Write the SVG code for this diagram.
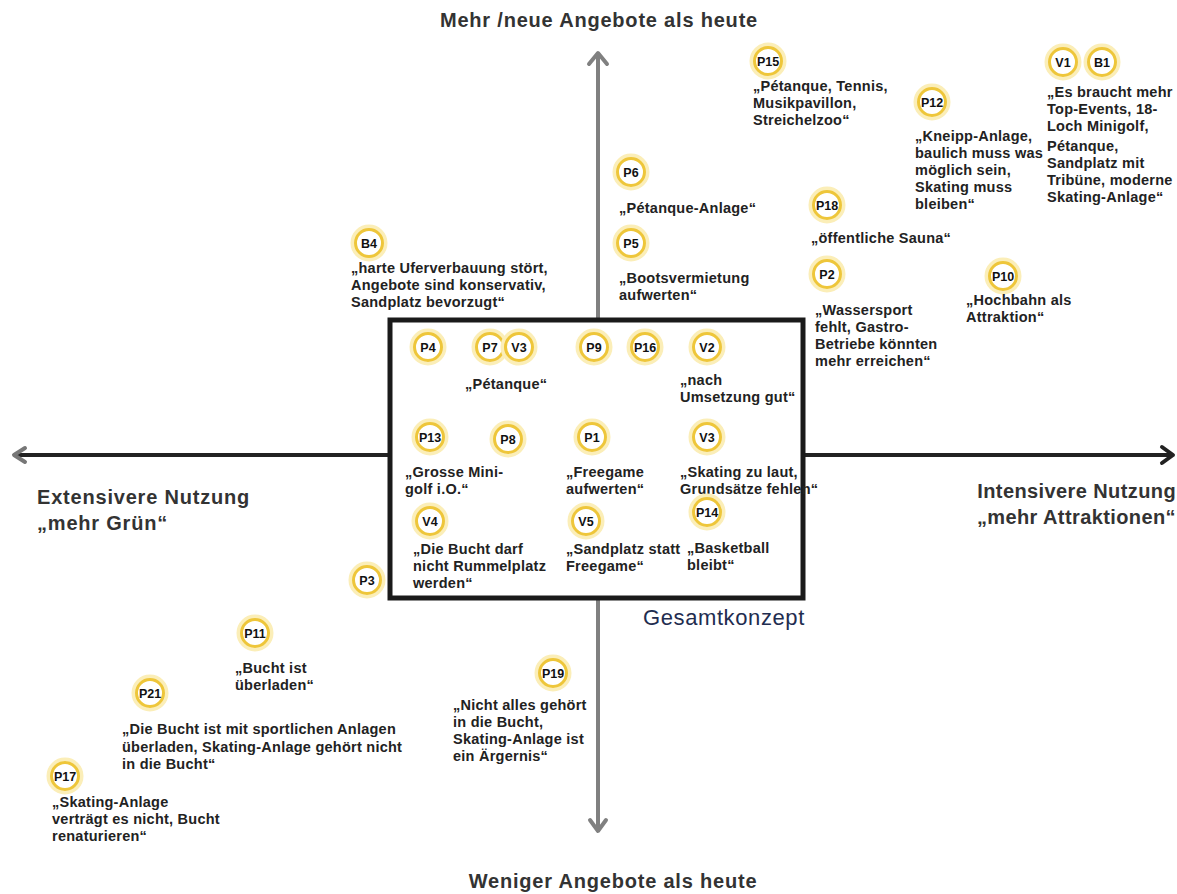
<svg xmlns="http://www.w3.org/2000/svg" width="1177" height="894" viewBox="0 0 1177 894">
<style>
.t{font-family:"Liberation Sans",Arial,sans-serif;font-weight:bold;font-size:14.5px;letter-spacing:0.25px;fill:#222}
.ax{font-family:"Liberation Sans",Arial,sans-serif;font-weight:bold;fill:#333}
.b{font-family:"Liberation Sans",Arial,sans-serif;font-weight:bold;font-size:12.5px;fill:#111;text-anchor:middle}
.glow{fill:none;stroke:#fbeeb8;stroke-width:4}
.ring{fill:#fff;stroke:#eec63a;stroke-width:3}
</style>
<defs>
<g id="badge"><circle class="glow" r="16.5"/><circle class="ring" r="13.5"/></g>
</defs>
<rect width="1177" height="894" fill="#fff"/>
<g id="connectors">
<line x1="598" y1="832" x2="598" y2="54" stroke="#808080" stroke-width="4"/>
<path d="M589 64 L598 53 L607 64" fill="none" stroke="#808080" stroke-width="4" stroke-linejoin="round" stroke-linecap="round"/>
<path d="M590 820 L598 831 L606 820" fill="none" stroke="#808080" stroke-width="4" stroke-linejoin="round" stroke-linecap="round"/>
<line x1="14" y1="455" x2="1172" y2="455" stroke="#222" stroke-width="4"/>
<path d="M1162 447 L1173 455 L1162 463" fill="none" stroke="#222" stroke-width="4" stroke-linejoin="round" stroke-linecap="round"/>
<path d="M25 448 L14 455 L25 462" fill="none" stroke="#777" stroke-width="4" stroke-linejoin="round" stroke-linecap="round"/>
</g>
<g id="gesamtkonzept">
<rect x="390" y="320" width="413" height="278" fill="#fff" stroke="#1a1a1a" stroke-width="5"/>
<text x="643" y="625" font-family="Liberation Sans,Arial,sans-serif" font-size="22" letter-spacing="0.6" fill="#1f2d50">Gesamtkonzept</text>
</g>
<g id="axis-labels">
<text class="ax" x="599" y="27" font-size="20" letter-spacing="0.8" text-anchor="middle">Mehr /neue Angebote als heute</text>
<text class="ax" x="613" y="888" font-size="20" letter-spacing="0.8" text-anchor="middle">Weniger Angebote als heute</text>
<text class="ax" x="37" y="504" font-size="20" letter-spacing="0.8">Extensivere Nutzung</text>
<text class="ax" x="37" y="530" font-size="20" letter-spacing="0.8">„mehr Grün“</text>
<text class="ax" x="1176" y="498" font-size="20" letter-spacing="0.4" text-anchor="end">Intensivere Nutzung</text>
<text class="ax" x="1176" y="524" font-size="20" letter-spacing="0.4" text-anchor="end">„mehr Attraktionen“</text>
</g>
<g id="P15"><use href="#badge" x="768" y="61"/><text class="b" x="768" y="65.5">P15</text>
<text class="t" x="753" y="91">„Pétanque, Tennis,</text><text class="t" x="753" y="108">Musikpavillon,</text><text class="t" x="753" y="125">Streichelzoo“</text></g>
<g id="V1B1"><use href="#badge" x="1063" y="62"/><text class="b" x="1063" y="66.5">V1</text><use href="#badge" x="1102" y="62"/><text class="b" x="1102" y="66.5">B1</text>
<text class="t" x="1047" y="97">„Es braucht mehr</text><text class="t" x="1047" y="114">Top-Events, 18-</text><text class="t" x="1047" y="131">Loch Minigolf,</text><text class="t" x="1047" y="151">Pétanque,</text><text class="t" x="1047" y="168">Sandplatz mit</text><text class="t" x="1047" y="185">Tribüne, moderne</text><text class="t" x="1047" y="202">Skating-Anlage“</text></g>
<g id="P12"><use href="#badge" x="932" y="102"/><text class="b" x="932" y="106.5">P12</text>
<text class="t" x="915" y="141">„Kneipp-Anlage,</text><text class="t" x="915" y="158">baulich muss was</text><text class="t" x="915" y="175">möglich sein,</text><text class="t" x="915" y="192">Skating muss</text><text class="t" x="915" y="209">bleiben“</text></g>
<g id="P6"><use href="#badge" x="631" y="172"/><text class="b" x="631" y="176.5">P6</text>
<text class="t" x="619" y="213">„Pétanque-Anlage“</text></g>
<g id="P5"><use href="#badge" x="631" y="243"/><text class="b" x="631" y="247.5">P5</text>
<text class="t" x="619" y="283">„Bootsvermietung</text><text class="t" x="619" y="300">aufwerten“</text></g>
<g id="P18"><use href="#badge" x="827" y="205"/><text class="b" x="827" y="209.5">P18</text>
<text class="t" x="811" y="243">„öffentliche Sauna“</text></g>
<g id="P2"><use href="#badge" x="827" y="274"/><text class="b" x="827" y="278.5">P2</text>
<text class="t" x="815" y="315">„Wassersport</text><text class="t" x="815" y="332">fehlt, Gastro-</text><text class="t" x="815" y="349">Betriebe könnten</text><text class="t" x="815" y="366">mehr erreichen“</text></g>
<g id="P10"><use href="#badge" x="1003" y="276"/><text class="b" x="1003" y="280.5">P10</text>
<text class="t" x="966" y="305">„Hochbahn als</text><text class="t" x="966" y="322">Attraktion“</text></g>
<g id="B4"><use href="#badge" x="369" y="243"/><text class="b" x="369" y="247.5">B4</text>
<text class="t" x="351" y="273">„harte Uferverbauung stört,</text><text class="t" x="351" y="290">Angebote sind konservativ,</text><text class="t" x="351" y="307">Sandplatz bevorzugt“</text></g>
<g id="P4"><use href="#badge" x="428" y="347"/><text class="b" x="428" y="351.5">P4</text></g>
<g id="P7V3"><use href="#badge" x="490" y="347"/><text class="b" x="490" y="351.5">P7</text><use href="#badge" x="519" y="347"/><text class="b" x="519" y="351.5">V3</text>
<text class="t" x="465" y="389">„Pétanque“</text></g>
<g id="P9"><use href="#badge" x="594" y="347"/><text class="b" x="594" y="351.5">P9</text></g>
<g id="P16"><use href="#badge" x="645" y="347"/><text class="b" x="645" y="351.5">P16</text></g>
<g id="V2"><use href="#badge" x="707" y="347"/><text class="b" x="707" y="351.5">V2</text>
<text class="t" x="680" y="385">„nach</text><text class="t" x="680" y="402">Umsetzung gut“</text></g>
<g id="P13"><use href="#badge" x="430" y="437"/><text class="b" x="430" y="441.5">P13</text>
<text class="t" x="405" y="477">„Grosse Mini-</text><text class="t" x="405" y="494">golf i.O.“</text></g>
<g id="P8"><use href="#badge" x="508" y="439"/><text class="b" x="508" y="443.5">P8</text></g>
<g id="P1"><use href="#badge" x="592" y="437"/><text class="b" x="592" y="441.5">P1</text>
<text class="t" x="566" y="477">„Freegame</text><text class="t" x="566" y="494">aufwerten“</text></g>
<g id="V3b"><use href="#badge" x="707" y="437"/><text class="b" x="707" y="441.5">V3</text>
<text class="t" x="680" y="477">„Skating zu laut,</text><text class="t" x="680" y="494">Grundsätze fehlen“</text></g>
<g id="V4"><use href="#badge" x="430" y="521"/><text class="b" x="430" y="525.5">V4</text>
<text class="t" x="413" y="554">„Die Bucht darf</text><text class="t" x="413" y="571">nicht Rummelplatz</text><text class="t" x="413" y="588">werden“</text></g>
<g id="V5"><use href="#badge" x="586" y="521"/><text class="b" x="586" y="525.5">V5</text>
<text class="t" x="566" y="554">„Sandplatz statt</text><text class="t" x="566" y="571">Freegame“</text></g>
<g id="P14"><use href="#badge" x="707" y="512"/><text class="b" x="707" y="516.5">P14</text>
<text class="t" x="687" y="553">„Basketball</text><text class="t" x="687" y="570">bleibt“</text></g>
<g id="P3"><use href="#badge" x="367" y="580"/><text class="b" x="367" y="584.5">P3</text></g>
<g id="P11"><use href="#badge" x="255" y="633"/><text class="b" x="255" y="637.5">P11</text>
<text class="t" x="235" y="673">„Bucht ist</text><text class="t" x="235" y="690">überladen“</text></g>
<g id="P21"><use href="#badge" x="150" y="693"/><text class="b" x="150" y="697.5">P21</text>
<text class="t" x="122" y="734">„Die Bucht ist mit sportlichen Anlagen</text><text class="t" x="122" y="752">überladen, Skating-Anlage gehört nicht</text><text class="t" x="122" y="769">in die Bucht“</text></g>
<g id="P19"><use href="#badge" x="553" y="673"/><text class="b" x="553" y="677.5">P19</text>
<text class="t" x="453" y="710">„Nicht alles gehört</text><text class="t" x="453" y="727">in die Bucht,</text><text class="t" x="453" y="744">Skating-Anlage ist</text><text class="t" x="453" y="761">ein Ärgernis“</text></g>
<g id="P17"><use href="#badge" x="65" y="776"/><text class="b" x="65" y="780.5">P17</text>
<text class="t" x="52" y="807">„Skating-Anlage</text><text class="t" x="52" y="824">verträgt es nicht, Bucht</text><text class="t" x="52" y="841">renaturieren“</text></g>
</svg>
